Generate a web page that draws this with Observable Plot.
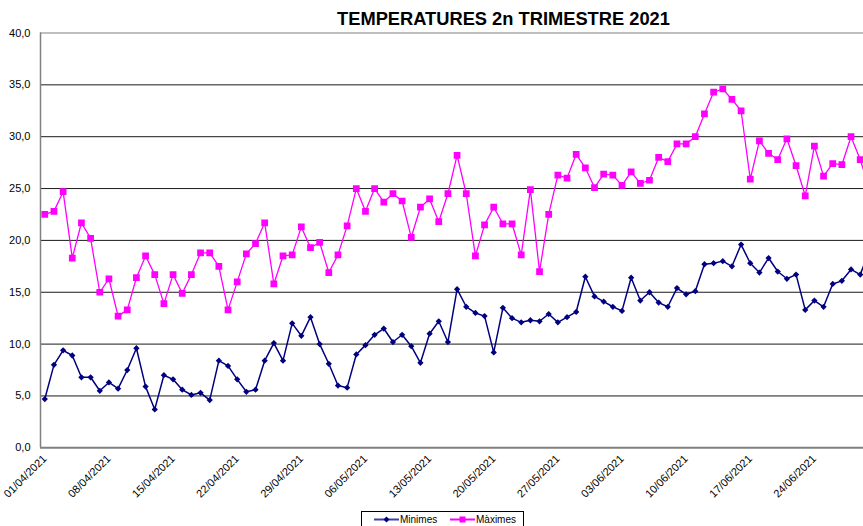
<!DOCTYPE html>
<html><head><meta charset="utf-8">
<script src="https://cdn.jsdelivr.net/npm/d3@7"></script>
<script src="https://cdn.jsdelivr.net/npm/@observablehq/plot@0.6"></script>
<style>
body{margin:0;background:#fff;font-family:"Liberation Sans",Arial,sans-serif;}
#wrap{position:relative;width:863px;height:526px;overflow:hidden;background:#fff;}
#title{position:absolute;left:0;top:9.8px;width:1007px;text-align:center;font-weight:bold;font-size:18.3px;line-height:18px;color:#000;white-space:nowrap;}
#legend{position:absolute;left:361px;top:511px;width:163px;height:30px;border:1px solid #000;box-sizing:border-box;font-size:10px;color:#000;}
#legend .item{position:absolute;top:2px;height:12px;line-height:12px;white-space:nowrap;}
#legend svg{vertical-align:middle;}
#chart{position:absolute;left:0;top:0;}
</style>
</head><body>
<div id="wrap">
<div id="chart"></div>
<div id="title">TEMPERATURES 2n TRIMESTRE 2021</div>
<div id="legend"></div>
</div>
<script>
const seriesNames = ["Minimes", "Màximes"];
const seriesColors = ["#000080", "#ff00ff"];
const minimes = [4.7,8.0,9.4,8.9,6.8,6.8,5.5,6.3,5.7,7.5,9.6,5.9,3.7,7.0,6.6,5.6,5.1,5.3,4.6,8.4,
7.9,6.6,5.4,5.6,8.4,10.1,8.4,12.0,10.8,12.6,10.0,8.1,6.0,5.8,9.0,9.9,10.9,11.5,10.2,10.9,
9.8,8.2,11.0,12.2,10.2,15.3,13.6,13.0,12.7,9.2,13.5,12.5,12.1,12.3,12.2,12.9,12.1,12.6,13.1,16.5,
14.6,14.1,13.6,13.2,16.4,14.2,15.0,14.0,13.6,15.4,14.8,15.1,17.7,17.8,18.0,17.5,19.6,17.8,16.9,18.3,
17.0,16.3,16.7,13.3,14.2,13.6,15.8,16.1,17.2,16.7,19.0];
const maximes = [22.5,22.8,24.7,18.3,21.7,20.2,15.0,16.3,12.7,13.3,16.4,18.5,16.7,13.9,16.7,14.9,16.7,18.8,18.8,17.5,
13.3,16.0,18.7,19.7,21.7,15.8,18.5,18.6,21.3,19.3,19.8,16.9,18.6,21.4,25.0,22.8,25.0,23.7,24.5,23.8,
20.3,23.2,24.0,21.8,24.5,28.2,24.5,18.5,21.5,23.2,21.6,21.6,18.6,24.9,17.0,22.5,26.3,26.0,28.3,27.0,
25.1,26.4,26.3,25.3,26.6,25.5,25.8,28.0,27.6,29.3,29.3,30.0,32.2,34.3,34.6,33.6,32.5,25.9,29.6,28.4,
27.8,29.8,27.2,24.3,29.1,26.2,27.4,27.3,30.0,27.8,25.0];
const tickLabels = ["01/04/2021","08/04/2021","15/04/2021","22/04/2021","29/04/2021","06/05/2021","13/05/2021",
"20/05/2021","27/05/2021","03/06/2021","10/06/2021","17/06/2021","24/06/2021"];
const yTicks = [0,5,10,15,20,25,30,35,40];

const parseDMY = s => { const [dd, mm, yy] = s.split("/"); return new Date(Date.UTC(+yy, +mm - 1, +dd)); };
const dates = d3.utcDay.range(new Date(Date.UTC(2021,3,1)), new Date(Date.UTC(2021,6,1)));
const data = dates.map((d, i) => ({date: d, min: minimes[i], max: maximes[i]}));
const DAY = 864e5;
const x0 = new Date(dates[0].getTime() - 0.469 * DAY);
const x1 = new Date(dates[0].getTime() + 89.36 * DAY);
const tickDates = tickLabels.map(parseDMY);
const labelByTime = new Map(tickDates.map((d, i) => [+d, tickLabels[i]]));

const diamond = {draw(ctx, size) { const h = Math.sqrt(size / 2); ctx.moveTo(0, -h); ctx.lineTo(h, 0); ctx.lineTo(0, h); ctx.lineTo(-h, 0); ctx.closePath(); }};

const chart = Plot.plot({
  width: 863, height: 505,
  marginTop: 32.5, marginBottom: 57.7, marginLeft: 40, marginRight: 0,
  style: {fontFamily: "'Liberation Sans', Arial, sans-serif", fontSize: "11px", color: "#000", background: "transparent"},
  x: {type: "utc", domain: [x0, x1]},
  y: {domain: [0, 40]},
  marks: [
    Plot.ruleY(yTicks.filter(v => v > 0 && v < 40), {stroke: "#1a1a1a", strokeWidth: 1}),
    Plot.ruleY([40], {stroke: "#808080", strokeWidth: 1.2}),
    Plot.ruleX([x0], {y1: 0, y2: 40, stroke: "#808080", strokeWidth: 1.5}),
    Plot.ruleY([0], {stroke: "#808080", strokeWidth: 2}),
    Plot.axisY({ticks: yTicks, tickSize: 0, tickPadding: 10, tickFormat: d => d.toFixed(1).replace(".", ","), label: null}),
    Plot.axisX({ticks: tickDates, tickSize: 0, tickPadding: 9, tickRotate: -45, tickFormat: d => labelByTime.get(+d), label: null}),
    Plot.line(data, {x: "date", y: "max", stroke: seriesColors[1], strokeWidth: 1.3, clip: true}),
    Plot.dot(data, {x: "date", y: "max", symbol: "square", fill: seriesColors[1], r: 3.8, clip: true}),
    Plot.line(data, {x: "date", y: "min", stroke: seriesColors[0], strokeWidth: 1.5, clip: true}),
    Plot.dot(data, {x: "date", y: "min", symbol: diamond, fill: seriesColors[0], r: 2.5, clip: true})
  ]
});
document.getElementById("chart").appendChild(chart);

// legend
const legend = document.getElementById("legend");
const lefts = [12, 88];
seriesNames.forEach((name, i) => {
  const item = document.createElement("div");
  item.className = "item";
  item.style.left = lefts[i] + "px";
  const marker = i === 0
    ? `<path d="M12.5,2.5 L15.5,5.5 L12.5,8.5 L9.5,5.5Z" fill="${seriesColors[i]}"/>`
    : `<rect x="9.5" y="2.5" width="6" height="6" fill="${seriesColors[i]}"/>`;
  item.innerHTML = `<svg width="25" height="11" style="vertical-align:-2px"><line x1="0" x2="25" y1="5.5" y2="5.5" stroke="${seriesColors[i]}" stroke-width="${i===0?2:2}" stroke-opacity="${i===0?0.75:1}"/>${marker}</svg><span style="margin-left:1px">${name}</span>`;
  legend.appendChild(item);
});
</script>
</body></html>
